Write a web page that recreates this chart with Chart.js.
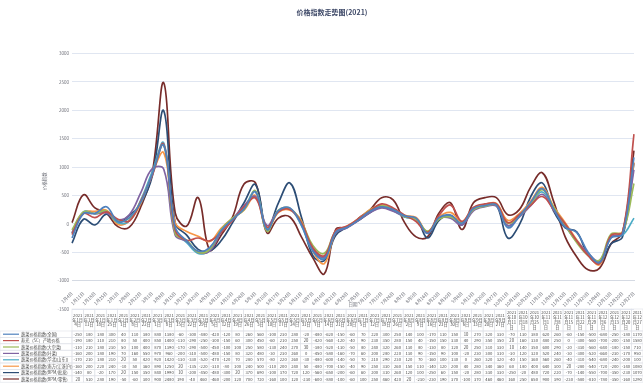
<!DOCTYPE html>
<html>
<head>
<meta charset="utf-8">
<title>价格指数走势图(2021)</title>
<script src="https://cdn.jsdelivr.net/npm/chart.js@4.4.1/dist/chart.umd.min.js"></script>
<style>
    html, body { margin: 0; padding: 0; background: #fff; }
    #wrap { width: 643px; height: 386px; }
</style>
</head>
<body>
<div id="wrap"><canvas id="priceChart" width="643" height="386"></canvas></div>
<script>
// Weekly dates (2021), 2/15 and 10/4 are holiday weeks and missing
const categories = [
    '1月4日', '1月11日', '1月18日', '1月25日', '2月1日', '2月8日', '2月22日',
    '3月1日', '3月8日', '3月15日', '3月22日', '3月29日',
    '4月5日', '4月12日', '4月19日', '4月26日',
    '5月3日', '5月10日', '5月17日', '5月24日', '5月31日',
    '6月7日', '6月14日', '6月21日', '6月28日',
    '7月5日', '7月12日', '7月19日', '7月26日',
    '8月2日', '8月9日', '8月16日', '8月23日', '8月30日',
    '9月6日', '9月13日', '9月20日', '9月27日',
    '10月11日', '10月18日', '10月25日',
    '11月1日', '11月8日', '11月15日', '11月22日', '11月29日',
    '12月6日', '12月13日', '12月20日', '12月27日'
];

const seriesNames = [
    '蔬菜价格指数(全国)',
    '寿光（SC）产地价格',
    '蔬菜价格指数(大宗菜)',
    '蔬菜价格指数(叶菜)',
    '蔬菜价格指数(华北(山东))',
    '蔬菜价格指数(南方(江浙沪))',
    '蔬菜价格指数(BPM/批发)',
    '蔬菜价格指数(BPM/零售)'
];

const vegAll = [-250, 180, 180, 300, 40, 110, 380, 880, 1380, -60,
    -300, -480, -420, -120, 80, 260, 560, -100, 230, 280,
    -20, -480, -620, -150, -60, 70, 220, 300, 250, 140,
    100, -170, 110, 150, 10, 270, 320, 330, -70, 130,
    380, 620, 260, -60, -150, -500, -680, -250, -180, 1170];

const shouguangSC = [-190, 180, 110, 210, 80, 50, 400, 850, 1400, -110,
    -290, -250, -300, -150, 60, 300, 450, -60, 210, 250,
    20, -420, -560, -120, -40, 90, 230, 350, 280, 150,
    40, -150, 150, 330, 40, 290, 350, 350, 20, 160,
    330, 480, 250, 0, -300, -560, -700, -200, -150, 1580];

const vegBulk = [-110, 210, 180, 230, 50, 100, 400, 870, 1390, -170,
    -290, -500, -450, -100, 100, 250, 580, -130, 240, 270,
    30, -380, -520, -130, -50, 80, 240, 320, 260, 130,
    80, -130, 80, 120, 20, 250, 310, 330, 10, 140,
    350, 600, 290, -20, -330, -560, -640, -180, -150, 710];

const vegLeafy = [-160, 200, 180, 190, 70, 160, 550, 970, 960, -200,
    -310, -500, -480, -150, 80, 320, 480, -30, 230, 260,
    0, -450, -580, -160, -70, 60, 200, 280, 220, 130,
    90, -150, 90, 100, -20, 230, 300, 310, -30, 120,
    320, 520, 240, -30, -300, -520, -660, -230, -170, 950];

const vegNorth = [-170, 210, 180, 210, 20, 50, 420, 920, 1420, -130,
    -330, -520, -470, -120, 70, 280, 570, -80, 220, 260,
    -30, -480, -600, -140, -50, 70, 210, 290, 230, 120,
    70, -160, 100, 130, 0, 260, 320, 320, -40, 150,
    360, 560, 260, -40, -310, -540, -680, -240, -200, 100];

const vegSouth = [-160, 200, 220, 240, -10, 50, 360, 890, 1250, 20,
    -135, -220, -310, -80, 100, 240, 500, -110, 200, 240,
    50, -480, -700, -150, -40, 90, 250, 330, 260, 150,
    110, -140, 120, 200, 40, 280, 340, 360, 60, 180,
    400, 640, 300, 20, -280, -540, -720, -200, -140, 1080];

const bpmWholesale = [-340, 80, -20, 170, 20, 150, 350, 840, 1990, 10,
    -200, -450, -480, -300, 20, 370, 690, -100, 370, 720,
    120, -560, -650, -200, -60, 60, 200, 310, 260, 120,
    100, -250, 60, 150, -20, 280, 330, 330, -250, -20,
    480, 720, 220, -70, -140, -550, -700, -350, -230, 1070];

const bpmRetail = [20, 510, 280, 190, -50, -60, 300, 900, 2480, 190,
    -40, 460, -460, -200, 120, 700, 720, -160, 100, 120,
    -230, -600, -880, -100, -60, 100, 250, 460, 420, 20,
    -230, -230, 190, 370, -100, 370, 460, 460, 160, 250,
    650, 900, 390, -230, -580, -810, -780, -350, -160, 1290];

const seriesData = [vegAll, shouguangSC, vegBulk, vegLeafy, vegNorth, vegSouth, bpmWholesale, bpmRetail];
const seriesColors = ['#4f81bd', '#c0504d', '#9bbb59', '#8064a2', '#4bacc6', '#f79646', '#2c4d75', '#772c2a'];

const FONT = '"Noto Sans CJK SC", "Noto Sans", sans-serif';
Chart.defaults.font.family = FONT;

// "2021年10月11日" wraps into narrow header cells like the original table
function headerLines(cat) {
    const parts = cat.split('月');
    const m = parts[0];
    const d = parts[1];
    if (m.length === 1) {
        return ['2021', '年' + m + '月', d];
    }
    return ['2021', '年' + m, '月' + d.slice(0, -1), '日'];
}

// Data table under the plot, columns follow the x scale width
const dataTablePlugin = {
    id: 'dataTable',
    afterDraw(chart) {
        const ctx = chart.ctx;
        const area = chart.chartArea;
        const top = area.bottom;
        const left = area.left;
        const colW = (chart.width - left) / categories.length;
        const headerH = 22;
        const rowH = 6.4;

        ctx.save();
        ctx.strokeStyle = '#dfe2e8';
        ctx.lineWidth = 0.6;
        ctx.textAlign = 'center';
        ctx.textBaseline = 'middle';
        ctx.fillStyle = '#4a4a4a';
        ctx.font = '4.2px ' + FONT;

        categories.forEach((cat, i) => {
            const x = left + i * colW;
            ctx.strokeRect(x, top, colW, headerH);
            const lines = headerLines(cat);
            const lh = 4.9;
            const y0 = top + headerH / 2 - (lines.length - 1) * lh / 2;
            lines.forEach((t, k) => ctx.fillText(t, x + colW / 2, y0 + k * lh));
        });

        chart.data.datasets.forEach((ds, r) => {
            const y = top + headerH + r * rowH;
            ctx.strokeRect(0, y, left, rowH);

            // legend key
            ctx.beginPath();
            ctx.strokeStyle = ds.borderColor;
            ctx.lineWidth = 1.2;
            ctx.moveTo(3, y + rowH / 2);
            ctx.lineTo(19, y + rowH / 2);
            ctx.stroke();
            ctx.strokeStyle = '#dfe2e8';
            ctx.lineWidth = 0.6;

            ctx.textAlign = 'left';
            ctx.fillText(ds.label, 21, y + rowH / 2);
            ctx.textAlign = 'center';

            ds.data.forEach((v, i) => {
                const x = left + i * colW;
                ctx.strokeRect(x, y, colW, rowH);
                ctx.fillText(String(v), x + colW / 2, y + rowH / 2);
            });
        });
        ctx.restore();
    }
};

document.addEventListener('DOMContentLoaded', function() {
    const ctx = document.getElementById('priceChart');
    new Chart(ctx, {
        type: 'line',
        data: {
            labels: categories,
            datasets: seriesData.map((values, i) => ({
                label: seriesNames[i],
                data: values,
                borderColor: seriesColors[i],
                backgroundColor: seriesColors[i],
                borderWidth: 1.7,
                pointRadius: 0,
                tension: 0.4,
                fill: false
            }))
        },
        options: {
            responsive: false,
            animation: false,
            devicePixelRatio: 1,
            layout: {
                padding: { top: 0, left: 30, right: 9, bottom: 77 }
            },
            plugins: {
                legend: { display: false },
                tooltip: { enabled: false },
                title: {
                    display: true,
                    text: '价格指数走势图(2021)',
                    color: '#3c4766',
                    font: { size: 7, weight: 'bold' },
                    padding: { top: 8, bottom: 37 }
                }
            },
            scales: {
                x: {
                    position: { y: -1000 },
                    offset: false,
                    grid: { display: false },
                    border: { display: true, color: '#d5dae3' },
                    ticks: {
                        autoSkip: false,
                        maxRotation: 45,
                        minRotation: 45,
                        padding: 2,
                        color: '#6e7079',
                        font: { size: 4.5 }
                    },
                    title: {
                        display: true,
                        text: '日期',
                        color: '#6e7079',
                        font: { size: 4.5 },
                        padding: { top: -8, bottom: 0 }
                    }
                },
                y: {
                    position: 'left',
                    min: -1500,
                    max: 3000,
                    afterFit: function(scale) {
                        scale.width = 42;
                    },
                    grid: { color: '#e0e6f1', drawTicks: false },
                    border: { display: false },
                    ticks: {
                        stepSize: 500,
                        padding: 3,
                        color: '#6e7079',
                        font: { size: 4.5 },
                        callback: function(value) {
                            return String(value);
                        }
                    },
                    title: {
                        display: true,
                        text: '价格指数',
                        color: '#6e7079',
                        font: { size: 4.5 },
                        padding: { top: 12, bottom: 0 }
                    }
                }
            }
        },
        plugins: [dataTablePlugin]
    });
});
</script>
</body>
</html>
